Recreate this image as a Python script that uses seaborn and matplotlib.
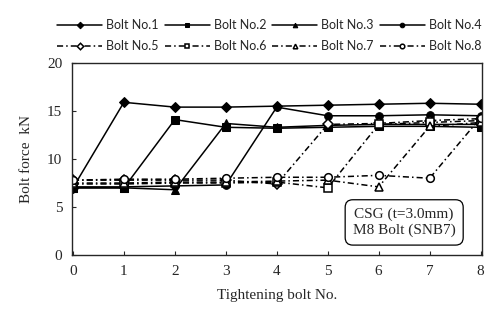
import matplotlib
matplotlib.use("Agg")
import matplotlib.pyplot as plt
import seaborn as sns
import pandas as pd

# --- data ---
tightening_no = [0, 1, 2, 3, 4, 5, 6, 7, 8]

bolt_1 = [7.0, 15.9, 15.4, 15.4, 15.5, 15.6, 15.7, 15.8, 15.7]
bolt_2 = [7.0, 7.0, 14.1, 13.3, 13.2, 13.3, 13.4, 13.4, 13.3]
bolt_3 = [7.0, 7.0, 6.8, 13.7, 13.3, 13.5, 13.6, 13.6, 13.6]
bolt_4 = [7.1, 7.1, 7.2, 7.3, 15.4, 14.5, 14.5, 14.6, 14.5]
bolt_5 = [7.8, 7.8, 7.8, 7.8, 7.4, 13.6, 13.7, 14.0, 14.2]
bolt_6 = [7.4, 7.4, 7.5, 7.5, 7.6, 7.0, 13.6, 13.8, 14.0]
bolt_7 = [7.5, 7.5, 7.6, 7.6, 7.7, 7.8, 7.1, 13.4, 13.8]
bolt_8 = [7.8, 7.9, 7.9, 8.0, 8.1, 8.1, 8.3, 8.0, 14.3]

bolt_names = ["Bolt No.1", "Bolt No.2", "Bolt No.3", "Bolt No.4",
              "Bolt No.5", "Bolt No.6", "Bolt No.7", "Bolt No.8"]
bolt_values = [bolt_1, bolt_2, bolt_3, bolt_4, bolt_5, bolt_6, bolt_7, bolt_8]

rows = []
for name, vals in zip(bolt_names, bolt_values):
    for x, v in zip(tightening_no, vals):
        rows.append({"bolt": name, "tightening": x, "force": v})
df = pd.DataFrame(rows)

solid_names = bolt_names[:4]
open_names = bolt_names[4:]
marker_cycle = ["D", "s", "^", "o"]

sns.set_style("ticks")
plt.rcParams["font.family"] = ["Liberation Serif", "DejaVu Serif"]

fig = plt.figure(figsize=(4.86, 3.13), dpi=100)
ax = fig.add_axes([0.148, 0.185, 0.844, 0.614])

# --- tightened bolts: solid lines, filled markers ---
sns.lineplot(
    data=df[df["bolt"].isin(solid_names)],
    x="tightening", y="force",
    hue="bolt", style="bolt",
    hue_order=solid_names, style_order=solid_names,
    palette=["black"] * 4,
    markers=dict(zip(solid_names, marker_cycle)),
    dashes=False,
    markersize=5.5, linewidth=1.1,
    markeredgecolor="black",
    legend=False, ax=ax,
)

# --- later bolts: dash-dot lines, open markers ---
sns.lineplot(
    data=df[df["bolt"].isin(open_names)],
    x="tightening", y="force",
    hue="bolt", style="bolt",
    hue_order=open_names, style_order=open_names,
    palette=["black"] * 4,
    markers=dict(zip(open_names, marker_cycle)),
    dashes=dict(zip(open_names, [(4, 2, 1, 2)] * 4)),
    markersize=5.5, linewidth=1.1,
    markerfacecolor="white", markeredgecolor="black", markeredgewidth=1.1,
    legend=False, ax=ax,
)

ax.set_xlim(-0.02, 8.03)
ax.set_ylim(0, 20)
ax.set_xticks(tightening_no)
ax.set_yticks([0, 5, 10, 15, 20])
ax.tick_params(direction="in", length=3, labelsize=11, pad=7, top=False, right=False)
for side in ["top", "right", "left", "bottom"]:
    ax.spines[side].set_visible(True)
    ax.spines[side].set_linewidth(1.0)
ax.set_xlabel("Tightening bolt No.", fontsize=11, labelpad=8)
ax.set_ylabel("Bolt force  kN", fontsize=11, labelpad=10)

ax.text(0.81, 0.17, "CSG (t=3.0mm)\nM8 Bolt (SNB7)",
        transform=ax.transAxes, ha="center", va="center", fontsize=11,
        linespacing=1.3,
        bbox=dict(boxstyle="round,pad=0.5", fc="white", ec="black", lw=0.9))

lines = ax.get_lines()[:8]
order = [0, 4, 1, 5, 2, 6, 3, 7]
fig.legend([lines[i] for i in order], [bolt_names[i] for i in order],
           loc="upper left", bbox_to_anchor=(0.095, 0.975), ncol=4,
           frameon=False, markerscale=0.6,
           handlelength=3.6, handletextpad=0.3, columnspacing=0.5,
           labelspacing=0.75, prop={"family": ["Lato", "DejaVu Sans"], "size": 9})

fig.savefig("out.png", dpi=100)
